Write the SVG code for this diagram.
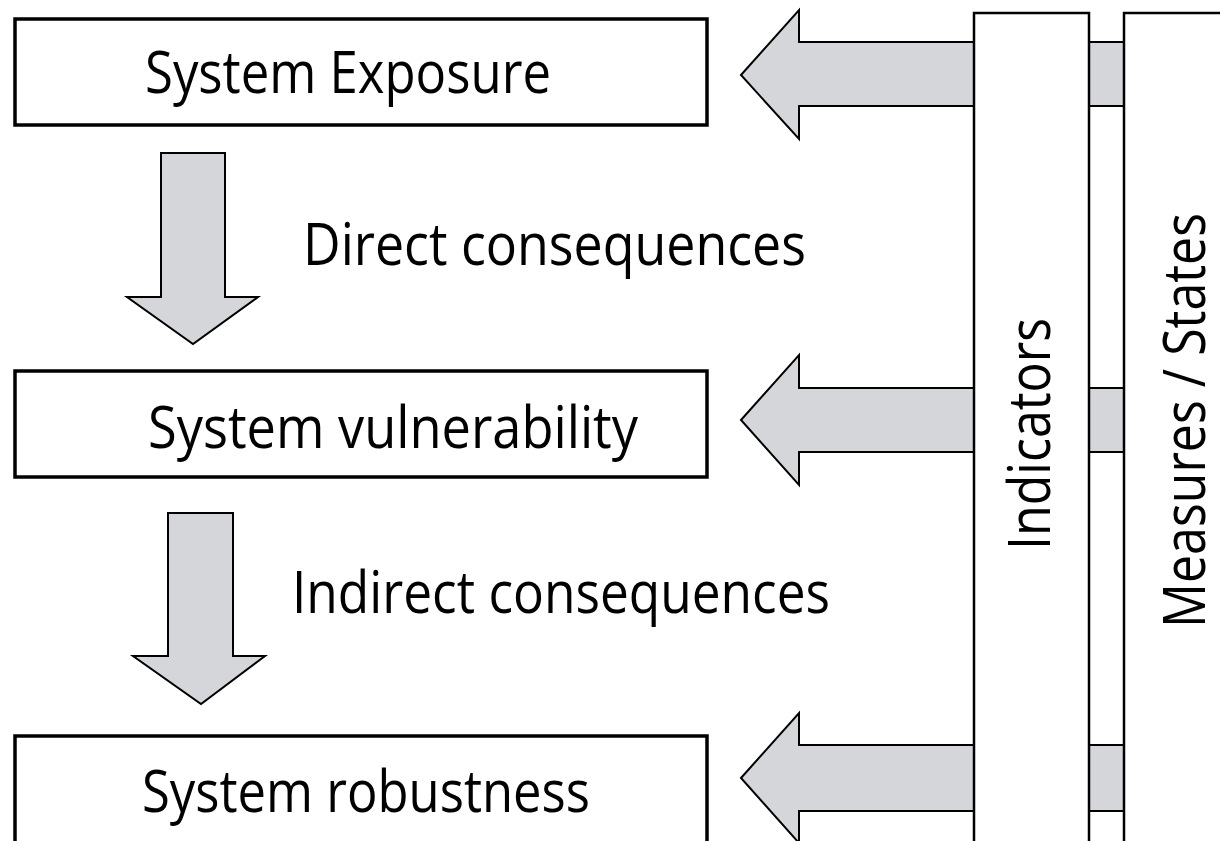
<svg xmlns="http://www.w3.org/2000/svg" width="1220" height="841" viewBox="0 0 1220 841">
<defs>
<style>
.box{fill:#fff;stroke:#000;stroke-width:3.5}
.col{fill:#fff;stroke:#000;stroke-width:2.5}
.arr{fill:#d5d6da;stroke:#000;stroke-width:2;stroke-linejoin:miter}
.strip{fill:#d5d6da;stroke:#000;stroke-width:2}
.t{font-family:"Open Sans","Liberation Sans",sans-serif;font-size:59px;fill:#000}
</style>
</defs>
<g id="connectors">
<path class="arr" d="M161,153 H225 V297 H258 L193,344 L127,297 H161 Z"/>
<path class="arr" d="M168,513 H233 V656 H265 L201,704 L133,656 H168 Z"/>
<path class="arr" d="M741,75 L799,10 V42 H974 V106 H799 V139 Z"/>
<path class="arr" d="M741,420 L799,355 V388 H974 V452 H799 V485 Z"/>
<path class="arr" d="M741,778 L799,713 V745 H974 V811 H799 V843 Z"/>
<rect class="strip" x="1089" y="42" width="35" height="64"/>
<rect class="strip" x="1089" y="388" width="35" height="64"/>
<rect class="strip" x="1089" y="745" width="35" height="66"/>
</g>
<g id="exposure">
<rect class="box" x="15" y="19" width="692" height="106"/>
<text class="t" x="145" y="93" textLength="406" lengthAdjust="spacingAndGlyphs">System Exposure</text>
</g>
<g id="vulnerability">
<rect class="box" x="15" y="371" width="692" height="106"/>
<text class="t" x="148" y="448" textLength="490" lengthAdjust="spacingAndGlyphs">System vulnerability</text>
</g>
<g id="robustness">
<rect class="box" x="15" y="736" width="692" height="130"/>
<text class="t" x="142" y="812" textLength="448" lengthAdjust="spacingAndGlyphs">System robustness</text>
</g>
<g id="label-direct">
<text class="t" x="303" y="265" textLength="503" lengthAdjust="spacingAndGlyphs">Direct consequences</text>
</g>
<g id="label-indirect">
<text class="t" x="292" y="613" textLength="538" lengthAdjust="spacingAndGlyphs">Indirect consequences</text>
</g>
<g id="indicators">
<rect class="col" x="974" y="13" width="115" height="860"/>
<text class="t" transform="translate(1050,550) rotate(-90)" textLength="232" lengthAdjust="spacingAndGlyphs">Indicators</text>
</g>
<g id="measures">
<rect class="col" x="1124" y="13" width="130" height="860"/>
<text class="t" transform="translate(1205,628) rotate(-90)" textLength="415" lengthAdjust="spacingAndGlyphs">Measures / States</text>
</g>
</svg>
